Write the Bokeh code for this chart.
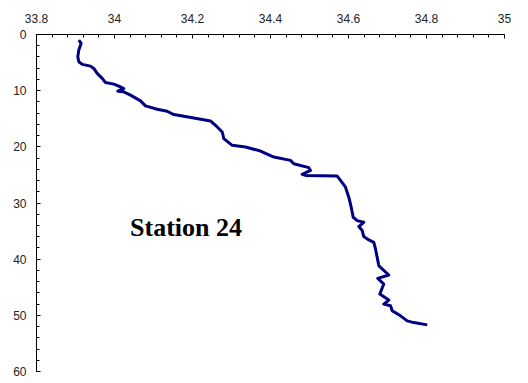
from bokeh.plotting import figure
from bokeh.models import Range1d, FixedTicker, Label
from bokeh.embed import file_html
from bokeh.resources import INLINE

# Salinity profile
salinity = [33.9085, 33.9146, 33.9085, 33.9059, 33.9085, 33.9172, 33.9385, 33.9469,
            33.9556, 33.9685, 33.9769, 33.9982, 34.0154, 34.0238, 34.0085, 34.0238,
            34.0410, 34.0667, 34.0795, 34.1095, 34.1351, 34.1521, 34.2033, 34.2462,
            34.2633, 34.2762, 34.2803, 34.3018, 34.3359, 34.3744, 34.4085, 34.4513,
            34.4597, 34.4982, 34.5026, 34.4813, 34.4897, 34.5710, 34.5795, 34.5923,
            34.6008, 34.6069, 34.6121, 34.6223, 34.6392, 34.6264, 34.6351, 34.6392,
            34.6521, 34.6649, 34.6692, 34.6736, 34.6777, 34.6821, 34.7033, 34.6751,
            34.6905, 34.6803, 34.7033, 34.6905, 34.7077, 34.7121, 34.7333, 34.7505,
            34.7674, 34.8018]
depth = [0.98, 1.57, 2.77, 3.96, 4.86, 5.32, 5.63, 6.04,
         6.93, 7.82, 8.54, 8.84, 9.32, 9.61, 10.09, 10.21,
         10.80, 11.82, 12.71, 13.30, 13.66, 14.25, 14.86, 15.39,
         16.46, 17.36, 18.54, 19.73, 20.04, 20.75, 21.82, 22.41,
         23.00, 23.71, 24.20, 24.91, 25.09, 25.21, 25.98, 27.18,
         28.96, 30.75, 32.54, 33.13, 33.43, 34.20, 34.91, 35.98,
         36.57, 37.00, 38.18, 39.68, 41.16, 41.46, 42.82, 43.43,
         44.43, 46.21, 47.29, 48.00, 48.30, 49.20, 50.09, 50.98,
         51.29, 51.70]

x_ticks = [33.8, 34.0, 34.2, 34.4, 34.6, 34.8, 35.0]
x_minor = [round(33.8 + 0.04 * i, 2) for i in range(31)]
y_ticks = [0, 10, 20, 30, 40, 50, 60]
y_minor = [2 * i for i in range(31)]
station_label = "Station 24"

p = figure(width=528, height=383, output_backend="svg", toolbar_location=None,
           x_axis_location="above",
           x_range=Range1d(33.8, 35.0), y_range=Range1d(60, 0),
           min_border_left=36, min_border_right=24, min_border_top=34, min_border_bottom=12)
p.outline_line_color = None
p.xgrid.visible = False
p.ygrid.visible = False
p.background_fill_color = "white"
p.border_fill_color = "white"

p.line(salinity, depth, line_color="#000080", line_width=3, line_join="round")

xa = p.xaxis[0]
xa.ticker = FixedTicker(ticks=x_ticks, minor_ticks=x_minor)
xa.major_label_overrides = {33.8: "33.8", 34.0: "34", 34.2: "34.2", 34.4: "34.4",
                            34.6: "34.6", 34.8: "34.8", 35.0: "35"}
ya = p.yaxis[0]
ya.ticker = FixedTicker(ticks=y_ticks, minor_ticks=y_minor)

for ax in (xa, ya):
    ax.axis_line_color = "black"
    ax.axis_line_width = 1
    ax.major_tick_in = 4
    ax.major_tick_out = 0
    ax.minor_tick_in = 3
    ax.minor_tick_out = 0
    ax.major_tick_line_color = "black"
    ax.minor_tick_line_color = "black"
    ax.major_label_text_font = "Liberation Sans"
    ax.major_label_text_font_size = "12px"
    ax.major_label_text_color = "#222222"
xa.major_label_standoff = 12
ya.major_label_standoff = 10

p.add_layout(Label(x=34.1833, y=34.3, text=station_label, text_align="center",
                   text_baseline="alphabetic", text_font="Liberation Serif",
                   text_font_style="bold", text_font_size="26px", text_color="black"))

open("out.html", "w").write(file_html(p, INLINE))
